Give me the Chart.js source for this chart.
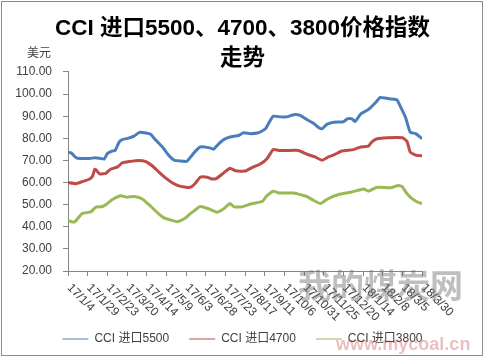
<!DOCTYPE html>
<html>
<head>
<meta charset="utf-8">
<script src="https://cdn.jsdelivr.net/npm/chart.js@4.4.1/dist/chart.umd.min.js"></script>
<style>
  html, body { margin: 0; padding: 0; background: #fff; }
  #wrap { width: 485px; height: 357px; }
</style>
</head>
<body>
<div id="wrap"><canvas id="grafico" width="485" height="357"></canvas></div>
<script>
// eixo x: dias contados a partir de 17/1/4
const rotulosDatas = ['17/1/4', '17/1/29', '17/2/23', '17/3/20', '17/4/14', '17/5/9', '17/6/3', '17/6/28',
  '17/7/23', '17/8/17', '17/9/11', '17/10/6', '17/10/31', '17/11/25', '17/12/20', '18/1/14', '18/2/8',
  '18/3/5', '18/3/30'];
const diasRotulos = [0, 25, 50, 75, 100, 125, 150, 175, 200, 225, 250, 275, 300, 325, 350, 375, 400, 425, 450];

const ticksY = [20, 30, 40, 50, 60, 70, 80, 90, 100, 110];

// CCI 进口5500
const dias5500 = [0, 4, 8, 12, 27, 35, 41, 46, 50, 56, 60, 65, 69, 77, 84, 91, 99, 105, 111, 120, 128, 135,
  141, 151, 156, 162, 168, 179, 185, 191, 198, 206, 217, 223, 232, 242, 251, 257, 261, 270, 278, 287, 295,
  304, 312, 319, 323, 329, 338, 350, 355, 361, 365, 372, 378, 384, 391, 397, 403, 410, 418, 422, 429, 435,
  442, 450];
const cci5500 = [73.6, 73.5, 71.9, 71.0, 70.9, 71.2, 70.9, 70.6, 73.1, 74.2, 74.6, 78.3, 79.4, 80.1, 81.0,
  82.7, 82.4, 81.8, 79.4, 76.1, 72.4, 70.1, 69.8, 69.6, 71.6, 74.2, 76.1, 75.8, 75.1, 77.3, 79.4, 80.6, 81.3,
  82.5, 82.1, 82.5, 84.3, 88.0, 90.0, 89.7, 89.7, 90.7, 90.4, 88.4, 86.8, 84.8, 84.3, 86.3, 87.3, 87.5, 88.8,
  88.8, 87.6, 91.0, 92.2, 93.7, 96.2, 98.5, 98.2, 97.8, 97.4, 94.8, 89.5, 82.8, 82.1, 79.8];

// CCI 进口4700
const dias4700 = [0, 10, 18, 27, 31, 34, 36, 40, 48, 54, 63, 69, 78, 90, 99, 107, 116, 124, 133, 141, 150,
  156, 162, 168, 177, 183, 189, 198, 206, 213, 225, 234, 244, 253, 261, 268, 278, 293, 304, 314, 323, 331,
  340, 348, 363, 372, 382, 386, 393, 406, 425, 431, 435, 442, 450];
const cci4700 = [60.0, 59.5, 60.4, 61.5, 62.7, 66.0, 65.6, 63.9, 64.2, 66.0, 67.1, 68.9, 69.5, 70.0, 69.5,
  67.6, 64.6, 62.1, 59.8, 58.5, 57.9, 57.9, 59.7, 62.4, 62.4, 61.6, 61.9, 64.4, 66.5, 65.3, 65.2, 66.8, 68.3,
  70.8, 75.0, 74.5, 74.5, 74.5, 72.8, 71.6, 70.1, 71.6, 72.8, 74.3, 74.9, 76.1, 76.5, 78.3, 79.8, 80.3, 80.3,
  78.6, 73.8, 72.4, 72.1];

// CCI 进口3800
const dias3800 = [0, 8, 18, 29, 35, 44, 48, 56, 67, 75, 84, 94, 103, 114, 122, 133, 139, 146, 151, 158, 168,
  179, 189, 198, 206, 211, 221, 232, 247, 253, 261, 268, 287, 297, 304, 312, 321, 331, 344, 359, 369, 376,
  382, 393, 410, 420, 425, 430, 437, 444, 450];
const cci3800 = [42.8, 42.1, 46.0, 46.7, 48.8, 49.2, 50.0, 52.2, 54.0, 53.4, 53.7, 52.7, 50.0, 46.3, 44.0,
  42.8, 42.3, 43.3, 44.5, 46.6, 49.2, 48.1, 46.6, 48.2, 50.5, 49.0, 49.0, 50.3, 51.5, 54.1, 56.1, 55.3, 55.3,
  54.4, 53.6, 52.0, 50.5, 52.8, 54.6, 55.6, 56.5, 57.1, 56.1, 57.9, 57.6, 58.7, 58.1, 55.4, 52.8, 51.2, 50.5];

const fonteBase = '"Liberation Sans", "Noto Sans CJK SC", sans-serif';
const corTexto = '#404040';
const corEixo = '#868686';

function montarPontos(dias, valores) {
  return dias.map((d, i) => ({ x: d, y: valores[i] }));
}

// moldura, rótulo "美元", rótulos inclinados do eixo x e marca d'água
const extras = {
  id: 'extras',
  beforeDraw(chart) {
    const c = chart.ctx;
    c.save();
    c.fillStyle = '#fff';
    c.fillRect(0, 0, chart.width, chart.height);
    c.restore();
  },
  afterDraw(chart) {
    const c = chart.ctx;
    const area = chart.chartArea;
    const escalaX = chart.scales.x;
    c.save();
    c.fillStyle = corTexto;
    c.font = '12px ' + fonteBase;
    c.textAlign = 'left';
    c.textBaseline = 'middle';
    c.fillText('美元', 27, 54);

    rotulosDatas.forEach((txt, i) => {
      const px = escalaX.getPixelForValue(diasRotulos[i]);
      c.save();
      c.translate(px + 1, area.bottom + 15);
      c.rotate(Math.PI / 4);
      c.fillText(txt, 0, 0);
      c.restore();
    });

    // marca d'água
    c.font = 'bold 33px ' + fonteBase;
    c.fillStyle = 'rgba(110, 110, 110, 0.45)';
    c.fillText('我的煤炭网', 298, 289);
    c.font = 'bold 18px ' + fonteBase;
    c.fillStyle = 'rgba(200, 70, 70, 0.35)';
    c.fillText('www.mycoal.cn', 336, 345);

    c.strokeStyle = '#8c8c8c';
    c.lineWidth = 1;
    c.strokeRect(1.5, 1.5, chart.width - 4, chart.height - 3);
    c.restore();
  }
};

const ctx = document.getElementById('grafico').getContext('2d');

new Chart(ctx, {
  type: 'line',
  data: {
    datasets: [
      { label: 'CCI 进口5500', data: montarPontos(dias5500, cci5500), borderColor: '#4A7EBB', backgroundColor: '#4A7EBB' },
      { label: 'CCI 进口4700', data: montarPontos(dias4700, cci4700), borderColor: '#BE4B48', backgroundColor: '#BE4B48' },
      { label: 'CCI 进口3800', data: montarPontos(dias3800, cci3800), borderColor: '#98B954', backgroundColor: '#98B954' }
    ]
  },
  options: {
    responsive: false,
    animation: false,
    elements: {
      line: { borderWidth: 3, tension: 0.15, fill: false },
      point: { radius: 0 }
    },
    layout: { padding: { left: 0, right: 0, top: 0, bottom: 2 } },
    scales: {
      x: {
        type: 'linear',
        min: 0,
        max: 450,
        afterBuildTicks: (escala) => { escala.ticks = diasRotulos.map(v => ({ value: v })); },
        afterFit: (escala) => { escala.height = 42; },
        ticks: { display: false },
        grid: { drawOnChartArea: false, tickLength: 5, color: corEixo },
        border: { color: corEixo }
      },
      y: {
        min: 20,
        max: 110,
        afterBuildTicks: (escala) => { escala.ticks = ticksY.map(v => ({ value: v })); },
        afterFit: (escala) => { escala.width = 68; },
        ticks: {
          padding: 11,
          color: corTexto,
          font: { family: fonteBase, size: 12 },
          callback: (v) => Number(v).toFixed(2)
        },
        grid: { drawOnChartArea: false, tickLength: 5, color: corEixo },
        border: { color: corEixo }
      },
      // espaço vazio à direita da área do gráfico
      margemDireita: {
        position: 'right',
        min: 0,
        max: 1,
        afterFit: (escala) => { escala.width = 63; },
        ticks: { display: false },
        grid: { display: false },
        border: { display: false }
      }
    },
    plugins: {
      title: {
        display: true,
        text: ['CCI 进口5500、4700、3800价格指数', '走势'],
        color: '#000',
        font: { family: fonteBase, size: 22.5, weight: 'bold', lineHeight: 1.333 },
        padding: { top: 14, bottom: -2 }
      },
      legend: {
        position: 'bottom',
        labels: {
          usePointStyle: true,
          pointStyle: 'line',
          pointStyleWidth: 26,
          color: corTexto,
          font: { family: fonteBase, size: 12 },
          padding: 20
        }
      },
      tooltip: { enabled: false }
    }
  },
  plugins: [extras]
});
</script>
</body>
</html>
